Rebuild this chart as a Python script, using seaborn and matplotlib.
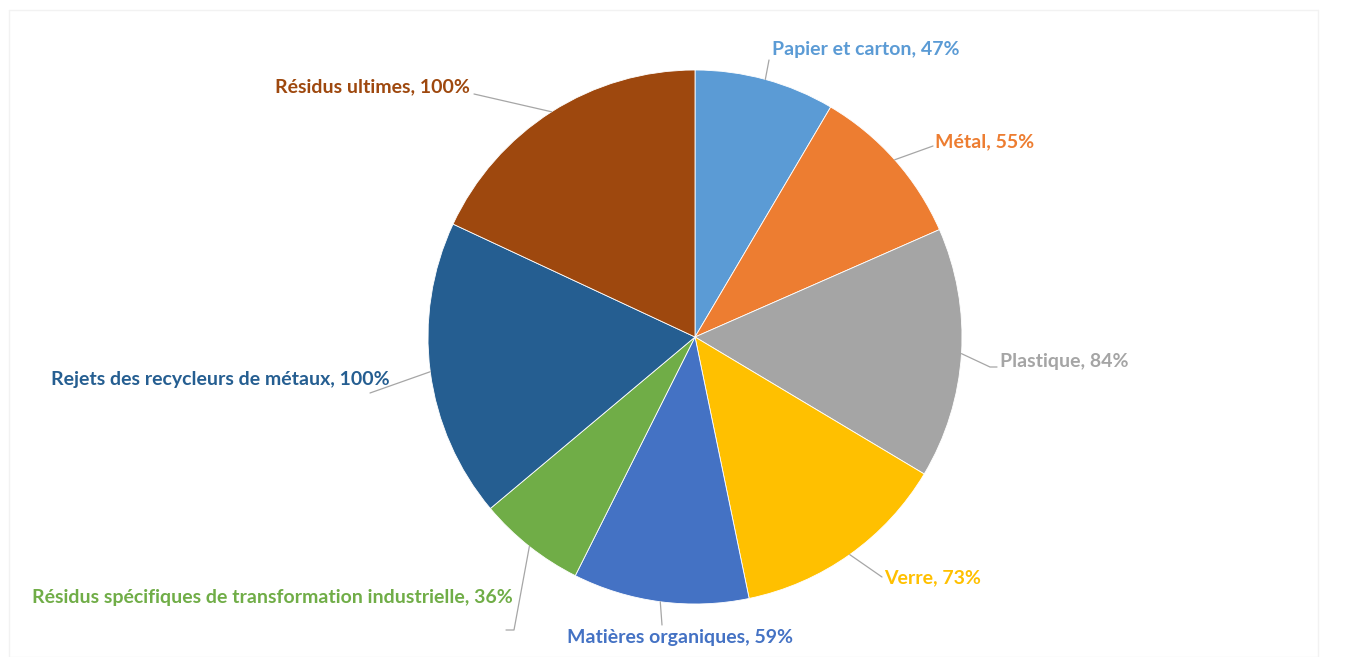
import numpy as np
import matplotlib
matplotlib.use("Agg")
import matplotlib.pyplot as plt
import seaborn as sns

categories = ["Papier et carton", "Métal", "Plastique", "Verre",
              "Matières organiques",
              "Résidus spécifiques de transformation industrielle",
              "Rejets des recycleurs de métaux", "Résidus ultimes"]
values = [47, 55, 84, 73, 59, 36, 100, 100]
colors = ["#5B9BD5", "#ED7D31", "#A5A5A5", "#FFC000",
          "#4472C4", "#70AD47", "#255E91", "#9E480E"]

# label layout in pixel coords (y from top): text x, text y, ha, leader end points
label_pos = [(772, 50, "left"), (935, 142, "left"), (1000, 362, "left"),
             (884, 578, "left"), (680, 638, "center"), (513, 598, "right"),
             (390, 380, "right"), (470, 87, "right")]
leader_pts = [[(769, 60)], [(933, 146)], [(990, 367), (997, 367)],
              [(882, 577)], [(662, 625)], [(514, 630), (506, 630)],
              [(370, 393)], [(474, 94)]]

sns.set_theme(style="white")
plt.rcParams["font.family"] = ["Lato", "DejaVu Sans"]

W, H = 1370, 657
fig = plt.figure(figsize=(W / 100, H / 100), dpi=100)
ax = fig.add_axes([0, 0, 1, 1])

# faint frame
ax.plot([9, 1318, 1318], [H, H, 10], color="#f2f2f2", lw=1)
ax.plot([9, 1318], [10, 10], color="#f2f2f2", lw=1)
ax.plot([9, 9], [10, H], color="#f2f2f2", lw=1)

cx, cy, r = 695, 337, 267
wedges, _ = ax.pie(values, colors=colors, startangle=90, counterclock=False,
                   center=(cx, cy), radius=r, frame=True,
                   wedgeprops=dict(edgecolor="white", linewidth=0.6))
# y axis is inverted, so flip the pie vertically back
for w in wedges:
    t1, t2 = w.theta1, w.theta2
    w.set_theta1(-t2)
    w.set_theta2(-t1)
ax.set_xlim(0, W)
ax.set_ylim(H, 0)
ax.set_aspect("equal")
ax.axis("off")

total = sum(values)
cum = np.cumsum([0] + values)
for i, (cat, val) in enumerate(zip(categories, values)):
    mid = (cum[i] + val / 2) / total * 2 * np.pi
    ax_x = cx + r * np.sin(mid)
    ax_y = cy - r * np.cos(mid)
    pts = [(ax_x, ax_y)] + leader_pts[i]
    ax.plot([p[0] for p in pts], [p[1] for p in pts], color="#a6a6a6", lw=0.9)
    tx, ty, ha = label_pos[i]
    ax.text(tx, ty, f"{cat}, {val}%", ha=ha, va="center", color=colors[i],
            fontsize=14, fontweight="bold")

fig.savefig("out.png", dpi=100, facecolor="white")
